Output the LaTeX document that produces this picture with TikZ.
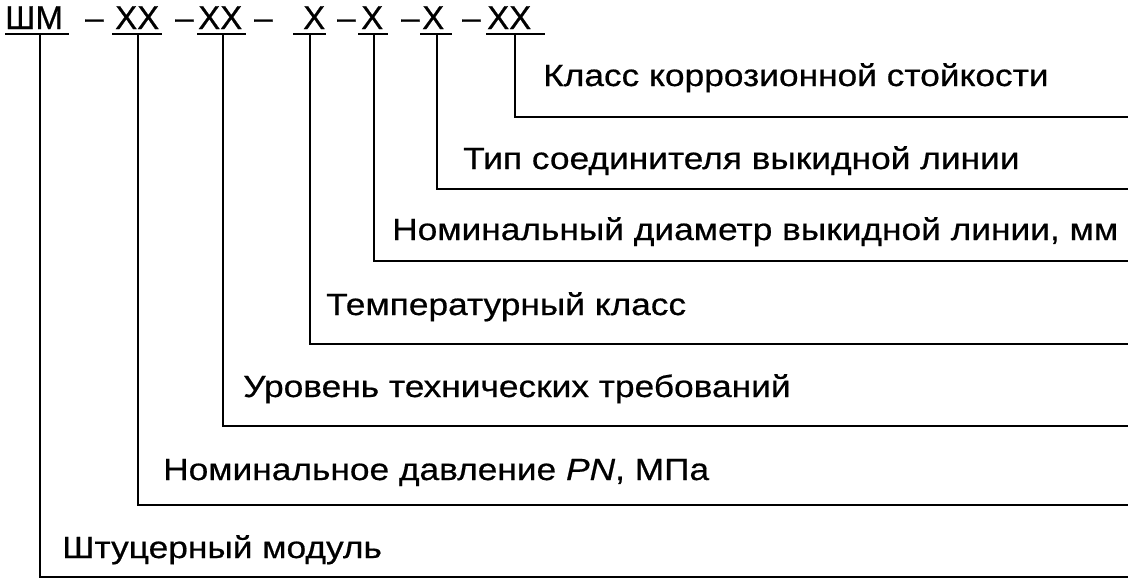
\documentclass[tikz,border=0pt]{standalone}
\usepackage{fontspec}
\setmainfont{Liberation Sans}[FakeStretch=1.15,FakeBold=0.6]
\newfontfamily\hdrfont{Liberation Sans}[FakeBold=0.6]
\begin{document}
\begin{tikzpicture}[x=1pt,y=-1pt,
  lbl/.style={anchor=base west,inner sep=0pt,font=\fontsize{30.7}{36}\selectfont},
  hdr/.style={anchor=base west,inner sep=0pt,font=\hdrfont\fontsize{33}{38}\selectfont},
  ln/.style={line width=2.6pt,line cap=butt,line join=miter}]
\useasboundingbox (0,0) rectangle (1135,584);
% header
\node[hdr] (h1) at (5,29) {ШМ};
\node[hdr] (d1) at (85,29) {–};
\node[hdr] (h2) at (115,29) {ХХ};
\node[hdr] (d2) at (175,29) {–};
\node[hdr] (h3) at (198,29) {ХХ};
\node[hdr] (d3) at (254,29) {–};
\node[hdr] (h4) at (303,29) {Х};
\node[hdr] (d4) at (337,29) {–};
\node[hdr] (h5) at (361,29) {Х};
\node[hdr] (d5) at (401,29) {–};
\node[hdr] (h6) at (422,29) {Х};
\node[hdr] (d6) at (462,29) {–};
\node[hdr] (h7) at (487,29) {ХХ};
% underline coordinates
\coordinate (u1a) at (5,34);   \coordinate (u1b) at (69,34);
\coordinate (u2a) at (112,34); \coordinate (u2b) at (162,34);
\coordinate (u3a) at (197,34); \coordinate (u3b) at (246,34);
\coordinate (u4a) at (293,34); \coordinate (u4b) at (326,34);
\coordinate (u5a) at (358,34); \coordinate (u5b) at (388,34);
\coordinate (u6a) at (420,34); \coordinate (u6b) at (452,34);
\coordinate (u7a) at (486,34); \coordinate (u7b) at (545,34);
\foreach \i in {1,...,7} {\draw[ln] (u\i a) -- (u\i b);}
% connector top points
\coordinate (t1) at (40,34);
\coordinate (t2) at (138,34);
\coordinate (t3) at (223,34);
\coordinate (t4) at (310,34);
\coordinate (t5) at (374,34);
\coordinate (t6) at (437,34);
\coordinate (t7) at (515,34);
% connector ends
\coordinate (e1) at (1128,577);
\coordinate (e2) at (1128,505);
\coordinate (e3) at (1128,426);
\coordinate (e4) at (1128,344);
\coordinate (e5) at (1128,261);
\coordinate (e6) at (1128,189);
\coordinate (e7) at (1128,117);
\foreach \i in {1,...,7} {\draw[ln] (t\i) |- (e\i);}
% labels
\node[lbl] (l7) at (543,86) {Класс коррозионной стойкости};
\node[lbl] (l6) at (463,169) {Тип соединителя выкидной линии};
\node[lbl] (l5) at (392,240) {Номинальный диаметр выкидной линии, мм};
\node[lbl] (l4) at (326,315) {Температурный класс};
\node[lbl] (l3) at (243,397) {Уровень технических требований};
\node[lbl] (l2) at (163,480) {Номинальное давление \textit{PN}, МПа};
\node[lbl] (l1) at (62,558) {Штуцерный модуль};
\end{tikzpicture}
\end{document}
